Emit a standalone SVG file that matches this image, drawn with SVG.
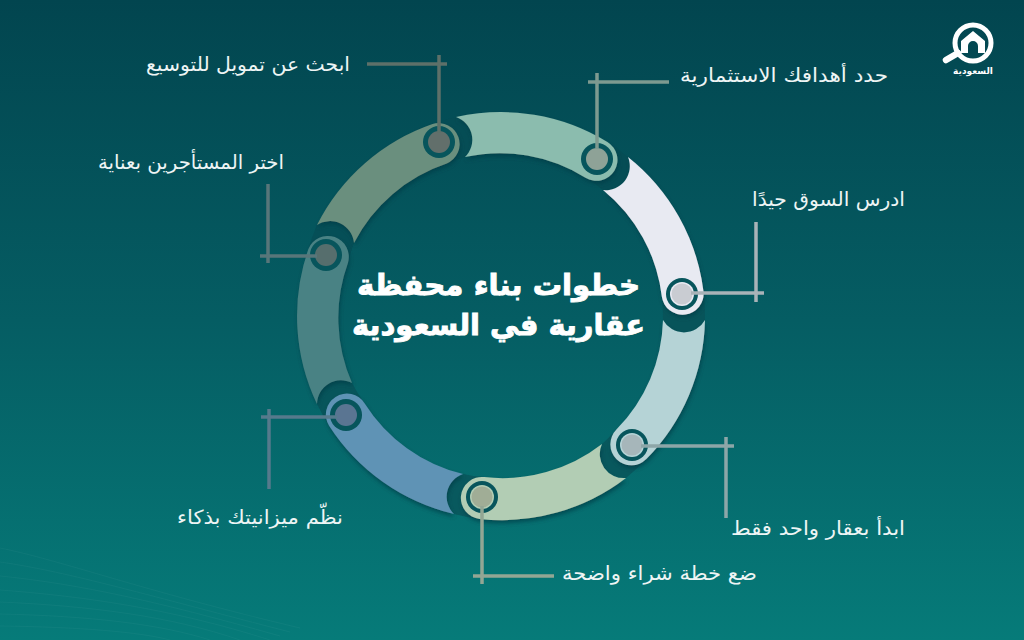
<svg xmlns="http://www.w3.org/2000/svg" width="1024" height="640" viewBox="0 0 1024 640">
<defs>
<linearGradient id="bg" x1="0" y1="0" x2="0" y2="1"><stop offset="0" stop-color="#02454f"/><stop offset="0.5" stop-color="#055d63"/><stop offset="1" stop-color="#067b79"/></linearGradient>
<filter id="sh" x="-20%" y="-20%" width="140%" height="140%"><feDropShadow dx="1" dy="3" stdDeviation="2" flood-color="#023c44" flood-opacity="0.7"/></filter>
</defs>
<style>
.l{font-family:"DejaVu Sans","Noto Sans",sans-serif;font-size:19.5px;fill:#eef5f5;text-anchor:end}
.t{font-family:"DejaVu Sans","Noto Sans",sans-serif;font-size:29px;font-weight:700;fill:#fff;stroke:#fff;stroke-width:.9px;text-anchor:end}
.c{fill:none;stroke-width:3.5}
.d{fill:#07555c}
.w{fill:none;stroke:#fff;stroke-opacity:.035;stroke-width:1}
</style>
<rect width="1024" height="640" fill="url(#bg)"/>
<g id="waves">
<path class="w" d="M0 548C60 560 140 590 300 628"/><path class="w" d="M0 562C70 572 150 596 290 632"/><path class="w" d="M0 576C80 584 160 602 280 636"/><path class="w" d="M0 590C80 596 170 608 270 640"/><path class="w" d="M0 602C90 606 170 616 240 640"/><path class="w" d="M0 614C90 616 160 624 210 640"/><path class="w" d="M0 626C80 627 140 632 170 640"/>
</g>
<g id="ring-bites">
<path fill="#054d55" d="M607.4 141.9A204 204 0 0 1 628 157A24 24 0 0 1 603 190A162 162 0 0 0 585.5 177.8Z"/>
<path fill="#07545a" d="M703.5 291.4A204 204 0 0 1 705 320A24 24 0 0 1 663 320A162 162 0 0 0 661.8 296.4Z"/>
<path fill="#08585d" d="M646.3 459.1A204 204 0 0 1 626 478A24 24 0 0 1 602 444A162 162 0 0 0 616.4 429.6Z"/>
<path fill="#08595e" d="M479.7 518.9A204 204 0 0 1 454 514A24 24 0 0 1 463 474A162 162 0 0 0 484.1 477.1Z"/>
<path fill="#07555b" d="M329.1 425.8A204 204 0 0 1 317 404A24 24 0 0 1 352 383A162 162 0 0 0 364.5 403.2Z"/>
<path fill="#054f57" d="M308.4 248.9A204 204 0 0 1 317 225A24 24 0 0 1 354 243A162 162 0 0 0 348 262.7Z"/>
<path fill="#054d55" d="M432.6 124A204 204 0 0 1 456 117A24 24 0 0 1 465 157A162 162 0 0 0 446.7 163.5Z"/>
</g>
<g id="n2-seg"><path filter="url(#sh)" fill="#e8eaf2" d="M628 157A204 204 0 0 1 703.5 291.4A21 21 0 0 1 661.8 296.4A162 162 0 0 0 603 190A24 24 0 0 0 628 157Z"/></g>
<g id="n3-seg"><path filter="url(#sh)" fill="#b5d3d6" d="M705 320A204 204 0 0 1 646.3 459.1A21 21 0 0 1 616.4 429.6A162 162 0 0 0 663 320A24 24 0 0 0 705 320Z"/></g>
<g id="n4-seg"><path filter="url(#sh)" fill="#b2cdb4" d="M626 478A204 204 0 0 1 479.7 518.9A21 21 0 0 1 484.1 477.1A162 162 0 0 0 602 444A24 24 0 0 0 626 478Z"/></g>
<g id="n5-seg"><path filter="url(#sh)" fill="#5f93b5" d="M454 514A204 204 0 0 1 329.1 425.8A21 21 0 0 1 364.5 403.2A162 162 0 0 0 463 474A24 24 0 0 0 454 514Z"/></g>
<g id="n7-seg"><path filter="url(#sh)" fill="#4a8284" d="M317 404A204 204 0 0 1 308.4 248.9A21 21 0 0 1 348 262.7A162 162 0 0 0 352 383A24 24 0 0 0 317 404Z"/></g>
<g id="n6-seg"><path filter="url(#sh)" fill="#6b8f7e" d="M317 225A204 204 0 0 1 432.6 124A21 21 0 0 1 446.7 163.5A162 162 0 0 0 354 243A24 24 0 0 0 317 225Z"/></g>
<g id="n1-seg"><path filter="url(#sh)" fill="#8bbcae" d="M456 117A204 204 0 0 1 607.4 141.9A21 21 0 0 1 585.5 177.8A162 162 0 0 0 465 157A24 24 0 0 0 456 117Z"/></g>
<g id="node1"><circle class="d" cx="597" cy="159" r="16"/><circle cx="597" cy="159" r="11" fill="#8ea297"/><text class="l" x="888" y="82" textLength="208" lengthAdjust="spacingAndGlyphs">حدد أهدافك الاستثمارية</text></g>
<g id="node2"><circle class="d" cx="682" cy="294" r="16"/><circle cx="682" cy="294" r="12" fill="#e8eaf2"/><circle cx="682" cy="294" r="10.5" fill="#c9ccd2"/><text class="l" x="905" y="206" textLength="153" lengthAdjust="spacingAndGlyphs">ادرس السوق جيدًا</text></g>
<g id="node3"><circle class="d" cx="632" cy="445" r="16"/><circle cx="632" cy="445" r="12" fill="#b5d3d6"/><circle cx="632" cy="445" r="10.5" fill="#a6b6ba"/><text class="l" x="905" y="535" textLength="174" lengthAdjust="spacingAndGlyphs">ابدأ بعقار واحد فقط</text></g>
<g id="node4"><circle class="d" cx="482" cy="497" r="16"/><circle cx="482" cy="497" r="12" fill="#b2cdb4"/><circle cx="482" cy="497" r="10.5" fill="#a0ad96"/><text class="l" x="757" y="580" textLength="195" lengthAdjust="spacingAndGlyphs">ضع خطة شراء واضحة</text></g>
<g id="node5"><circle class="d" cx="346" cy="415" r="16"/><circle cx="346" cy="415" r="11" fill="#5a7592"/><text class="l" x="343" y="524" textLength="166" lengthAdjust="spacingAndGlyphs">نظّم ميزانيتك بذكاء</text></g>
<g id="node6"><circle class="d" cx="439" cy="142" r="16"/><circle cx="439" cy="142" r="11" fill="#626f6b"/><text class="l" x="350" y="71" textLength="204" lengthAdjust="spacingAndGlyphs">ابحث عن تمويل للتوسيع</text></g>
<g id="node7"><circle class="d" cx="326" cy="255" r="16"/><circle cx="326" cy="255" r="11" fill="#566e6d"/><text class="l" x="284" y="169" textLength="186" lengthAdjust="spacingAndGlyphs">اختر المستأجرين بعناية</text></g>
<g id="connectors">
<path class="c" stroke="#7e9a90" d="M588 82H669M597 73V149"/>
<path class="c" stroke="#a9b3b8" d="M691 293H764M756 222V302"/>
<path class="c" stroke="#8da6a8" d="M641 446H734M726 437V518"/>
<path class="c" stroke="#93a694" d="M482 506V584M473 576H554"/>
<path class="c" stroke="#567a8c" d="M337 417H261M269 409V489"/>
<path class="c" stroke="#5e7069" d="M439 55V133M367 64H447"/>
<path class="c" stroke="#58767a" d="M317 256H260M268 184V263"/>
</g>
<g id="title"><text class="t" x="640" y="295" textLength="283" lengthAdjust="spacingAndGlyphs">خطوات بناء محفظة</text><text class="t" x="645" y="335" textLength="293" lengthAdjust="spacingAndGlyphs">عقارية في السعودية</text></g>
<g id="logo"><circle cx="973" cy="43" r="18" fill="none" stroke="#fff" stroke-width="5"/><path d="M946 60L958 53" stroke="#fff" stroke-width="6.5" stroke-linecap="round"/><path fill="#fff" fill-rule="evenodd" d="M973 31L985 41V53H961V41ZM968 53H978V46A5 5 0 0 0 968 46Z"/><text x="973" y="74" style="font-family:'DejaVu Sans',sans-serif;font-size:9px;font-weight:700;fill:#fff;text-anchor:middle">السعودية</text></g>
</svg>
